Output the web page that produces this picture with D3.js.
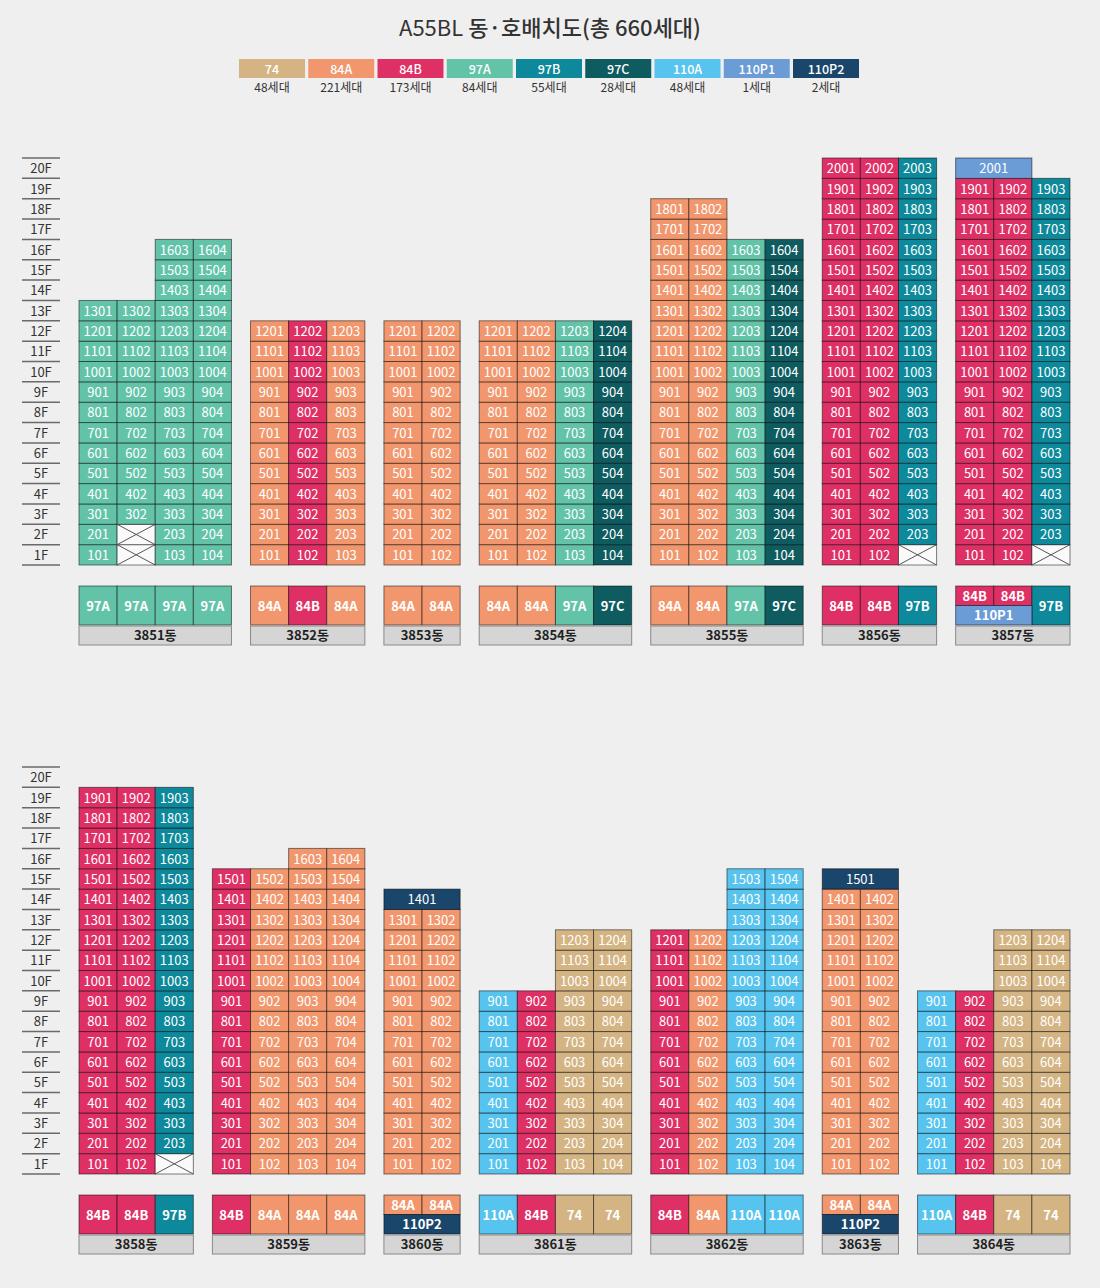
<!DOCTYPE html>
<html><head><meta charset="utf-8">
<script src="https://cdn.jsdelivr.net/npm/d3@7"></script>
<style>
html,body{margin:0;padding:0;background:#f0eff0;}
svg{display:block;font-family:"Noto Sans CJK KR","Noto Sans",sans-serif;}
</style></head>
<body>
<svg id="chart" width="1100" height="1288"></svg>
<script>
// ---------- DATA ----------
const legendTypes  = ["74","84A","84B","97A","97B","97C","110A","110P1","110P2"];
const legendColors = ["#d4b483","#f2976d","#df3066","#63c3a9","#0e899b","#0e5b60","#56c4ee","#6b9cd6","#1a466c"];
const legendCounts = ["48세대","221세대","173세대","84세대","55세대","28세대","48세대","1세대","2세대"];

const dongNames = ["3851동","3852동","3853동","3854동","3855동","3856동","3857동",
                   "3858동","3859동","3860동","3861동","3862동","3863동","3864동"];
const dongRow   = [0,0,0,0,0,0,0, 1,1,1,1,1,1,1];
const colTypes  = [
  ["97A","97A","97A","97A"],
  ["84A","84B","84A"],
  ["84A","84A"],
  ["84A","84A","97A","97C"],
  ["84A","84A","97A","97C"],
  ["84B","84B","97B"],
  ["84B","84B","97B"],
  ["84B","84B","97B"],
  ["84B","84A","84A","84A"],
  ["84A","84A"],
  ["110A","84B","74","74"],
  ["84B","84A","110A","110A"],
  ["84A","84A"],
  ["110A","84B","74","74"]
];
const colTopFloor = [
  [13,13,16,16],
  [12,12,12],
  [12,12],
  [12,12,12,12],
  [18,18,16,16],
  [20,20,20],
  [19,19,19],
  [19,19,19],
  [15,15,16,16],
  [13,13],
  [9,9,12,12],
  [12,12,15,15],
  [14,14],
  [9,9,12,12]
];
const missingUnits = [["102","202"],[],[],[],[],["103"],["103"],["103"],[],[],[],[],[],[]];
const penthouseFloor = [null,null,null,null,null,null,20, null,null,14,null,null,15,null];
const penthouseType  = [null,null,null,null,null,null,"110P1", null,null,"110P2",null,null,"110P2",null];
const penthouseCols  = [null,null,null,null,null,null,[0,1], null,null,[0,1],null,null,[0,1],null];
const floors = d3.range(20, 0, -1);
const floorLabels = floors.map(f => f + "F");

// ---------- LAYOUT ----------
const svg = d3.select("#chart");
const color = d3.scaleOrdinal().domain(legendTypes).range(legendColors);
const xUnit = d3.scaleLinear().domain([0, 26]).range([79, 1070]);
const rowTop = [158, 767];
const yRow = rowTop.map(t => d3.scaleBand().domain(floors).range([t, t + 20 * 20.35]));

// title
const title = svg.append("text").attr("x", 550).attr("y", 36).attr("text-anchor", "middle")
  .attr("font-size", 22).attr("fill", "#333");
title.append("tspan").attr("font-weight", 400).text("A55BL ");
title.append("tspan").attr("font-weight", 500).text("동·호배치도(총 660세대)");

// legend
const lx = d3.scalePoint().domain(legendTypes).range([239, 239 + 8 * 69.25]);
const lg = svg.append("g").selectAll("g").data(legendTypes).join("g");
lg.append("rect").attr("x", d => lx(d)).attr("y", 59).attr("width", 66).attr("height", 19)
  .attr("fill", d => color(d));
lg.append("text").attr("x", d => lx(d) + 33).attr("y", 73.5).attr("text-anchor", "middle")
  .attr("font-size", 12.5).attr("font-weight", 500).attr("fill", "#fff").text(d => d);
lg.append("text").attr("x", d => lx(d) + 33).attr("y", 92).attr("text-anchor", "middle")
  .attr("font-size", 12).attr("fill", "#333").text((d, i) => legendCounts[i]);

// floor labels
rowTop.forEach((t, r) => {
  const y = yRow[r];
  const g = svg.append("g");
  g.selectAll("text").data(floors).join("text")
    .attr("x", 41).attr("y", f => y(f) + y.bandwidth() / 2 + 5)
    .attr("text-anchor", "middle").attr("font-size", 13).attr("fill", "#333")
    .text((f, i) => floorLabels[i]);
  g.selectAll("line").data(floors.concat([0])).join("line")
    .attr("x1", 22).attr("x2", 60)
    .attr("y1", f => f === 0 ? y(1) + y.bandwidth() : y(f))
    .attr("y2", f => f === 0 ? y(1) + y.bandwidth() : y(f))
    .attr("stroke", "#6a6a6a").attr("stroke-width", 1.5);
});

// buildings
const starts = [];
[0, 1].forEach(r => {
  let s = 0;
  dongNames.forEach((n, i) => {
    if (dongRow[i] !== r) return;
    starts[i] = s;
    s += colTypes[i].length + 0.5;
  });
});

const cellStroke = "rgba(0,0,0,0.5)";
dongNames.forEach((name, i) => {
  const r = dongRow[i];
  const y = yRow[r];
  const bh = y.bandwidth();
  const g = svg.append("g");
  const units = [];
  colTypes[i].forEach((t, c) => {
    for (let f = 1; f <= colTopFloor[i][c]; f++) {
      const label = `${f}${String(c + 1).padStart(2, "0")}`;
      units.push({f, c, n: 1, type: t, label, missing: missingUnits[i].includes(label)});
    }
  });
  if (penthouseFloor[i]) {
    const pc = penthouseCols[i];
    units.push({f: penthouseFloor[i], c: pc[0], n: pc.length, type: penthouseType[i],
                label: `${penthouseFloor[i]}01`, missing: false});
  }
  const cx = c => xUnit(starts[i] + c);
  const cells = g.selectAll("g").data(units).join("g");
  cells.append("rect")
    .attr("x", d => cx(d.c)).attr("y", d => y(d.f))
    .attr("width", d => cx(d.c + d.n) - cx(d.c)).attr("height", bh)
    .attr("fill", d => d.missing ? "#fafafa" : color(d.type))
    .attr("stroke", cellStroke).attr("stroke-width", 1);
  cells.filter(d => d.missing).each(function(d) {
    const x0 = cx(d.c), x1 = cx(d.c + 1), y0 = y(d.f), y1 = y0 + bh;
    const s = d3.select(this);
    s.append("line").attr("x1", x0).attr("y1", y0).attr("x2", x1).attr("y2", y1).attr("stroke", "#555");
    s.append("line").attr("x1", x0).attr("y1", y1).attr("x2", x1).attr("y2", y0).attr("stroke", "#555");
  });
  cells.filter(d => !d.missing).append("text")
    .attr("x", d => (cx(d.c) + cx(d.c + d.n)) / 2).attr("y", d => y(d.f) + bh / 2 + 5)
    .attr("text-anchor", "middle").attr("font-size", 13).attr("fill", "#fff")
    .text(d => d.label);

  // type box
  const by = y(1) + bh + 21;
  const boxH = 39;
  const pc = penthouseCols[i] || [];
  const tb = g.append("g");
  colTypes[i].forEach((t, c) => {
    const half = pc.includes(c);
    const h = half ? boxH / 2 : boxH;
    tb.append("rect").attr("x", cx(c)).attr("y", by).attr("width", cx(c + 1) - cx(c)).attr("height", h)
      .attr("fill", color(t)).attr("stroke", cellStroke);
    tb.append("text").attr("x", (cx(c) + cx(c + 1)) / 2).attr("y", by + h / 2 + 5)
      .attr("text-anchor", "middle").attr("font-size", 13).attr("font-weight", 700)
      .attr("fill", "#fff").text(t);
  });
  if (pc.length) {
    const x0 = cx(pc[0]), x1 = cx(pc[pc.length - 1] + 1);
    tb.append("rect").attr("x", x0).attr("y", by + boxH / 2).attr("width", x1 - x0).attr("height", boxH / 2)
      .attr("fill", color(penthouseType[i])).attr("stroke", cellStroke);
    tb.append("text").attr("x", (x0 + x1) / 2).attr("y", by + boxH * 0.75 + 5)
      .attr("text-anchor", "middle").attr("font-size", 13).attr("font-weight", 700)
      .attr("fill", "#fff").text(penthouseType[i]);
  }
  const nx0 = cx(0), nx1 = cx(colTypes[i].length);
  tb.append("rect").attr("x", nx0).attr("y", by + boxH + 1).attr("width", nx1 - nx0).attr("height", 19)
    .attr("fill", "#d5d5d5").attr("stroke", "#8a8a8a");
  tb.append("text").attr("x", (nx0 + nx1) / 2).attr("y", by + boxH + 15)
    .attr("text-anchor", "middle").attr("font-size", 13).attr("font-weight", 700)
    .attr("fill", "#222").text(name);
});
</script>
</body></html>
